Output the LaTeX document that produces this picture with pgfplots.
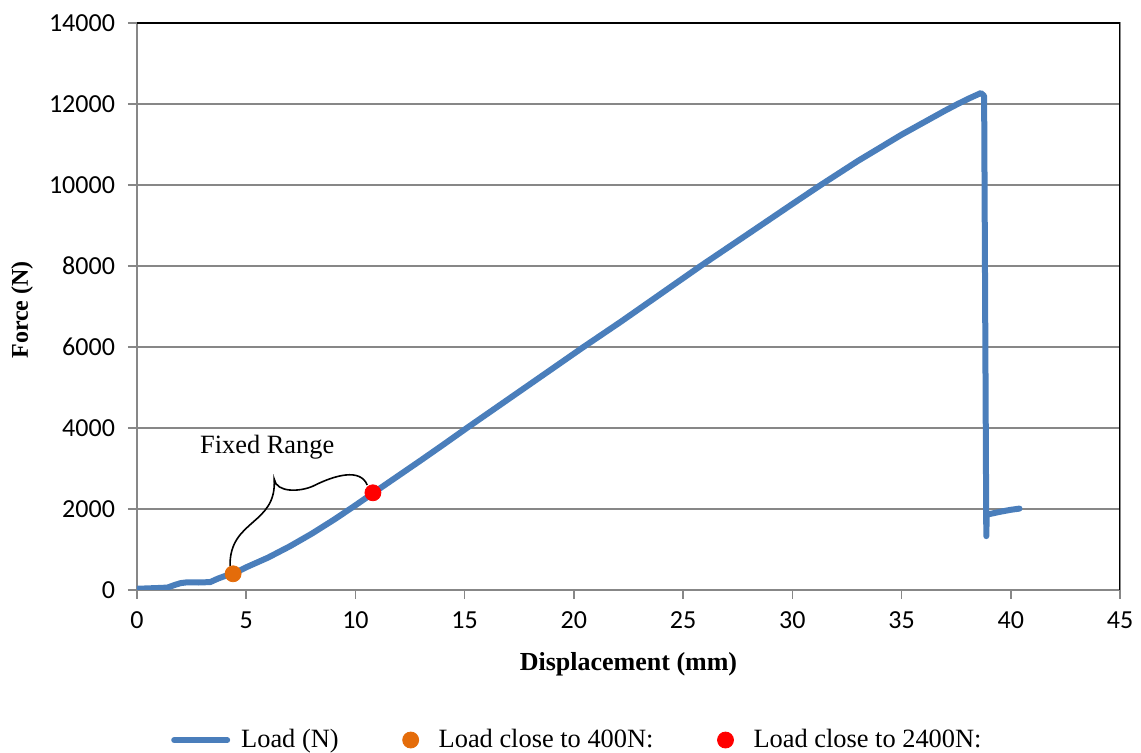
\documentclass[border=0pt]{standalone}
\usepackage{fontspec}
\setmainfont{Liberation Serif}
\newfontfamily\calibri{Carlito}
\usepackage{pgfplots}
\pgfplotsset{compat=1.18}
\definecolor{loadblue}{HTML}{4A7EBB}
\definecolor{ptorange}{HTML}{E46C0A}
\definecolor{gridgray}{HTML}{878787}
\pgfplotsset{
  lineleg/.style={legend image code/.code={\draw[##1] (0pt,0pt) -- (26.5pt,0pt);}},
  markleg/.style={legend image code/.code={\path[draw=none,fill=none] (0pt,0pt) -- (17pt,0pt); \draw[##1] plot coordinates {(8.5pt,0pt)};}},
}
\begin{document}
\begin{tikzpicture}
\path[use as bounding box] (-68.5pt,-81.5pt) rectangle (502pt,295pt);
\begin{axis}[
  at={(0pt,0pt)}, anchor=south west,
  scale only axis, width=491.5pt, height=283.5pt,
  xmin=0, xmax=45, ymin=0, ymax=14000,
  xtick={0,5,...,45}, ytick={0,2000,...,14000},
  ymajorgrids, grid style={gridgray, line width=0.8pt},
  axis line style={gridgray, line width=0.8pt},
  tick style={gridgray, line width=0.8pt},
  tick align=outside, major tick length=4.5pt,
  xtick pos=left, ytick pos=left,
  scaled y ticks=false, scaled x ticks=false,
  /pgf/number format/1000 sep={},
  /pgf/number format/assume math mode=true,
  ticklabel style={font=\calibri\fontsize{13}{15}\selectfont, text=black},
  yticklabel style={xshift=-3pt},
  xticklabel style={yshift=-3pt},
  xlabel={Displacement (mm)},
  ylabel={Force (N)},
  xlabel style={at={(axis description cs:0.5,-0.1305)}, anchor=center, font=\fontsize{13}{15}\selectfont\bfseries},
  ylabel style={at={(axis description cs:-0.117,0.494)}, anchor=center, font=\fontsize{12}{14}\selectfont\bfseries},
  legend columns=3,
  legend style={at={(axis description cs:0.449,-0.2646)}, anchor=center, draw=none,
    font=\fontsize{13.2}{16}\selectfont,
    /tikz/every odd column/.append style={column sep=3.5pt},
    /tikz/every even column/.append style={column sep=25.5pt}},
]
\draw[black, line width=0.8pt]
  (axis cs:4.26,593) .. controls (axis cs:4.22,1750) and (axis cs:6.42,1600) .. (axis cs:6.28,2741)
  .. controls (axis cs:6.37,2395) and (axis cs:7.47,2420) .. (axis cs:8.07,2568)
  .. controls (axis cs:9.07,2840) and (axis cs:10.22,3012) .. (axis cs:10.54,2593);
\node[font=\fontsize{13.2}{16}\selectfont] at (axis cs:5.96,3530) {Fixed Range};

\addplot[loadblue, line width=3pt, line join=round, line cap=round, mark=none, lineleg] coordinates {
(0,30) (0.5,40) (1.0,50) (1.4,60) (1.7,120) (2.0,170) (2.3,190) (2.8,185) (3.35,195)
(3.7,280) (4.1,360) (4.4,400) (5,560) (6,800) (7,1080) (8,1390) (9,1730) (9.91,2058)
(10.8,2390) (12,2834) (13,3204) (14,3580) (15.1,4000) (17,4711) (19,5460) (20.44,6000)
(22.14,6620) (24,7321) (25.8,8000) (28,8800) (30,9530) (31.3,10000) (33,10593)
(35,11242) (37,11839) (37.57,12000) (38.1,12140) (38.63,12270)
(38.78,12200) (38.88,1330) (38.9,1860) (39.5,1930) (40.0,1980) (40.4,2010)
};
\addlegendentry{Load (N)}
\addplot[only marks, mark=*, mark size=4pt, color=ptorange, markleg] coordinates {(4.4,400)};
\addlegendentry{Load close to 400N:}
\addplot[only marks, mark=*, mark size=4pt, color=red, markleg] coordinates {(10.8,2400)};
\addlegendentry{Load close to 2400N:}
\draw[black, line width=0.8pt] (rel axis cs:0,1) -- (rel axis cs:1,1) -- (rel axis cs:1,0);
\end{axis}
\end{tikzpicture}
\end{document}
